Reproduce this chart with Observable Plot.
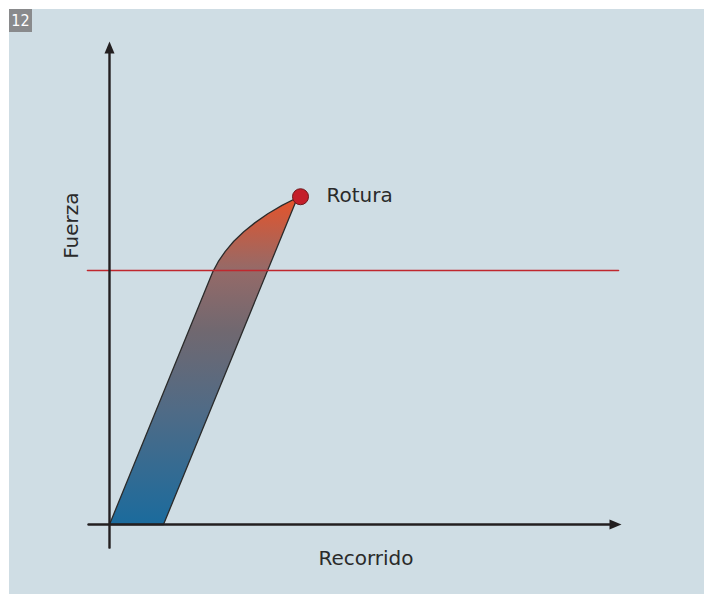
<!DOCTYPE html>
<html>
<head>
<meta charset="utf-8">
<script src="https://cdn.jsdelivr.net/npm/d3@7"></script>
<script src="https://cdn.jsdelivr.net/npm/@observablehq/plot@0.6"></script>
<style>
  html, body { margin: 0; padding: 0; background: #ffffff; }
  #panel { position: absolute; left: 9px; top: 9px; width: 695px; height: 585px; background: #cfdde4; }
  #badge { position: absolute; left: 9px; top: 9px; width: 23px; height: 23px; background: #898a8c;
           color: #ffffff; font: 16px "Liberation Sans Narrow", "DejaVu Sans Condensed", sans-serif;
           line-height: 23px; text-align: center; z-index: 2; }
</style>
</head>
<body>
<div id="panel"></div>
<div id="badge">12</div>
<script>
// ---- data (arbitrary units) ----
const badgeText = "12";
const xLabel = "Recorrido";
const yLabel = "Fuerza";
const breakLabel = "Rotura";
// outline of the force–travel band (x = travel, y = force)
const bandX = [0, 10.8, 37.6, 34.5, 31.66, 29.12, 26.85, 24.86, 23.16, 21.74, 20.6, 0];
const bandY = [0, 0, 67.84, 66.2, 64.46, 62.63, 60.74, 58.76, 56.68, 54.52, 52.3, 0];
// rupture point
const breakX = [38.2];
const breakY = [68.0];
// horizontal reference level
const refLevel = [52.7];
const refSpan = [-4.4, 101.8];
// axis extents
const xAxisSpan = [-4.2, 100];
const yAxisSpan = [-4.8, 97.7];

const band = bandX.map((x, i) => ({x, y: bandY[i]}));
const brk = breakX.map((x, i) => ({x, y: breakY[i], label: breakLabel}));

const arrowHead = {
  draw(context, size) {
    const r = Math.sqrt(size / Math.PI);
    context.moveTo(0, -1.2 * r);
    context.lineTo(0.5 * r, 0);
    context.lineTo(-0.5 * r, 0);
    context.closePath();
  }
};

const ink = "#231f20";
const font = "'DejaVu Sans', sans-serif";

const chart = Plot.plot({
  width: 695,
  height: 585,
  marginLeft: 100,
  marginRight: 95,
  marginTop: 33,
  marginBottom: 70,
  x: {domain: [0, 100], axis: null},
  y: {domain: [0, 100], axis: null},
  style: {background: "transparent", fontFamily: font, overflow: "visible"},
  marks: [
    // band
    Plot.line(band, {x: "x", y: "y", fill: "url(#bandGrad)", stroke: "#2b2b2b", strokeWidth: 1.3, strokeLinejoin: "round"}),
    // reference line
    Plot.line(refSpan.map(x => ({x, y: refLevel[0]})), {x: "x", y: "y", stroke: "#c0272d", strokeWidth: 1.6}),
    // axes
    Plot.line(xAxisSpan.map(x => ({x, y: 0})), {x: "x", y: "y", stroke: ink, strokeWidth: 2.4}),
    Plot.line(yAxisSpan.map(y => ({x: 0, y})), {x: "x", y: "y", stroke: ink, strokeWidth: 2.4}),
    Plot.dot([{x: xAxisSpan[1], y: 0}], {x: "x", y: "y", symbol: arrowHead, r: 10, rotate: 90, fill: ink, stroke: "none"}),
    Plot.dot([{x: 0, y: yAxisSpan[1]}], {x: "x", y: "y", symbol: arrowHead, r: 10, fill: ink, stroke: "none"}),
    // rupture point
    Plot.dot(brk, {x: "x", y: "y", r: 8, fill: "#c41e2a", stroke: "#6e1a1e", strokeWidth: 1}),
    Plot.text(brk, {x: "x", y: "y", text: "label", dx: 26, dy: -1, textAnchor: "start", fontSize: 20, fill: "#2a2a2a"}),
    // axis titles
    Plot.text([xLabel], {x: 51.3, y: -7.0, text: d => d, textAnchor: "middle", fontSize: 20, fill: "#2a2a2a"}),
    Plot.text([yLabel], {x: -7.6, y: 62.0, text: d => d, rotate: -90, textAnchor: "middle", fontSize: 20, fill: "#2a2a2a"})
  ]
});

// gradient definition for the band
const svgSel = d3.select(chart);
const defs = svgSel.insert("defs", ":first-child");
const grad = defs.append("linearGradient").attr("id", "bandGrad")
  .attr("x1", 0).attr("y1", 0).attr("x2", 0).attr("y2", 1);
[[0, "#e6532a"], [0.22, "#956a68"], [0.41, "#706870"], [0.65, "#506b86"], [1, "#1b6b9d"]]
  .forEach(([o, c]) => grad.append("stop").attr("offset", o).attr("stop-color", c));

document.getElementById("badge").textContent = badgeText;
document.getElementById("panel").appendChild(chart);
</script>
</body>
</html>
